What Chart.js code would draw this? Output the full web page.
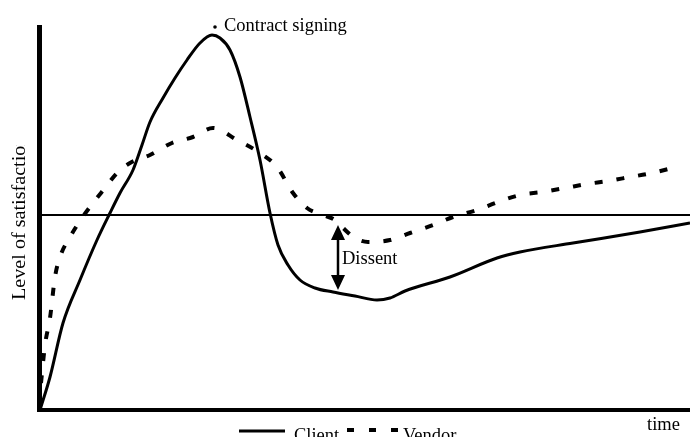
<!DOCTYPE html>
<html>
<head>
<meta charset="utf-8">
<script src="https://cdn.jsdelivr.net/npm/chart.js@4"></script>
<style>
  html, body { margin: 0; padding: 0; background: #fff; }
  #wrap { width: 690px; height: 437px; }
</style>
</head>
<body>
<div id="wrap"><canvas id="myChart" width="690" height="437"></canvas></div>
<script>
// time axis / satisfaction values
var clientX = [0, 10, 23, 40, 57, 70, 80, 93, 102, 110, 123, 135, 147, 160, 172, 180, 190, 200, 210, 220, 230, 238, 248, 260, 275, 293, 315, 337, 350, 365, 410, 457, 480, 533, 600, 650];
var clientY = [0, 33, 87, 130, 170, 197, 217, 240, 265, 288, 312, 332, 350, 367, 375, 372, 360, 333, 293, 250, 197, 165, 145, 130, 122, 118, 114, 110, 112, 119, 133, 152, 158, 167, 178, 187];

var vendorX = [1, 5, 10, 15, 20, 30, 42, 53, 65, 77, 90, 110, 132, 153, 173, 197, 220, 237, 253, 267, 283, 295, 303, 315, 328, 350, 370, 393, 413, 437, 458, 480, 502, 525, 547, 568, 590, 612, 640];
var vendorY = [27, 65, 92, 133, 153, 173, 192, 207, 222, 237, 247, 255, 267, 273, 282, 270, 257, 243, 217, 202, 195, 190, 182, 172, 168, 170, 177, 185, 193, 200, 208, 215, 218, 222, 226, 229, 233, 237, 244];

var seriesNames = ["Client", "Vendor"];
var refLevel = 195;               // neutral satisfaction line
var signing = [175, 383];          // contract signing point
var dissent = [298, 185, 120];     // x, top, bottom of the dissent arrow
var axisTitle = "time";
var yTitle = "Level of satisfaction";

function pairs(xs, ys) {
  var out = [];
  for (var i = 0; i < xs.length; i++) out.push({x: xs[i], y: ys[i]});
  return out;
}

var serif = "'Liberation Serif', 'DejaVu Serif', serif";

var decor = {
  id: "decor",
  afterDatasetsDraw: function (chart) {
    var ctx = chart.ctx;
    var xs = chart.scales.x, ys = chart.scales.y;
    var a = chart.chartArea;
    ctx.save();
    ctx.strokeStyle = "#000";
    ctx.fillStyle = "#000";
    ctx.setLineDash([]);

    // axes
    ctx.lineWidth = 5;
    ctx.beginPath();
    ctx.moveTo(39.5, 25);
    ctx.lineTo(39.5, a.bottom + 2);
    ctx.stroke();
    ctx.lineWidth = 4;
    ctx.beginPath();
    ctx.moveTo(37, a.bottom);
    ctx.lineTo(690, a.bottom);
    ctx.stroke();

    // contract signing marker
    var px = xs.getPixelForValue(signing[0]);
    var py = ys.getPixelForValue(signing[1]);
    ctx.beginPath();
    ctx.arc(px, py, 1.8, 0, Math.PI * 2);
    ctx.fill();
    ctx.font = "18.5px " + serif;
    ctx.textBaseline = "alphabetic";
    ctx.fillText("Contract signing", px + 9, py + 4);

    // dissent arrow
    var ax = xs.getPixelForValue(dissent[0]);
    var top = ys.getPixelForValue(dissent[1]);
    var bot = ys.getPixelForValue(dissent[2]);
    ctx.lineWidth = 2.5;
    ctx.beginPath();
    ctx.moveTo(ax, top + 10);
    ctx.lineTo(ax, bot - 10);
    ctx.stroke();
    ctx.beginPath();
    ctx.moveTo(ax, top);
    ctx.lineTo(ax - 7, top + 15);
    ctx.lineTo(ax + 7, top + 15);
    ctx.closePath();
    ctx.fill();
    ctx.beginPath();
    ctx.moveTo(ax, bot);
    ctx.lineTo(ax - 7, bot - 15);
    ctx.lineTo(ax + 7, bot - 15);
    ctx.closePath();
    ctx.fill();
    ctx.fillText("Dissent", ax + 4, (top + bot) / 2 + 6);

    // x axis title
    ctx.fillText(axisTitle, 647, 430);

    // legend
    ctx.lineWidth = 3;
    ctx.beginPath();
    ctx.moveTo(239, 431);
    ctx.lineTo(285, 431);
    ctx.stroke();
    ctx.fillText(seriesNames[0], 294, 441);
    ctx.lineWidth = 4;
    ctx.setLineDash([7, 15]);
    ctx.beginPath();
    ctx.moveTo(347, 430);
    ctx.lineTo(398, 430);
    ctx.stroke();
    ctx.setLineDash([]);
    ctx.fillText(seriesNames[1], 403, 441);

    // y title, stretched a bit and clipped like the original
    ctx.save();
    ctx.beginPath();
    ctx.rect(0, 145, 36, 300);
    ctx.clip();
    ctx.translate(25, 300);
    ctx.rotate(-Math.PI / 2);
    ctx.scale(1.06, 1);
    ctx.font = "19px " + serif;
    ctx.fillText(yTitle, 0, 0);
    ctx.restore();

    ctx.restore();
  }
};

var ctx = document.getElementById("myChart").getContext("2d");
var myChart = new Chart(ctx, {
  type: "line",
  data: {
    datasets: [
      {
        label: seriesNames[0],
        data: pairs(clientX, clientY),
        borderColor: "#000",
        borderWidth: 3,
        pointRadius: 0,
        cubicInterpolationMode: "monotone",
        fill: false
      },
      {
        label: seriesNames[1],
        data: pairs(vendorX, vendorY),
        borderColor: "#000",
        borderWidth: 4,
        borderDash: [8, 14],
        pointRadius: 0,
        cubicInterpolationMode: "monotone",
        fill: false
      },
      {
        label: "neutral",
        data: [{x: 0, y: refLevel}, {x: 650, y: refLevel}],
        borderColor: "#000",
        borderWidth: 2,
        pointRadius: 0,
        fill: false
      }
    ]
  },
  options: {
    responsive: false,
    animation: false,
    layout: { padding: { left: 40, right: 0, top: 25, bottom: 27 } },
    plugins: {
      legend: { display: false },
      tooltip: { enabled: false }
    },
    scales: {
      x: { type: "linear", min: 0, max: 650, display: false },
      y: { type: "linear", min: 0, max: 385, display: false }
    }
  },
  plugins: [decor]
});
</script>
</body>
</html>
